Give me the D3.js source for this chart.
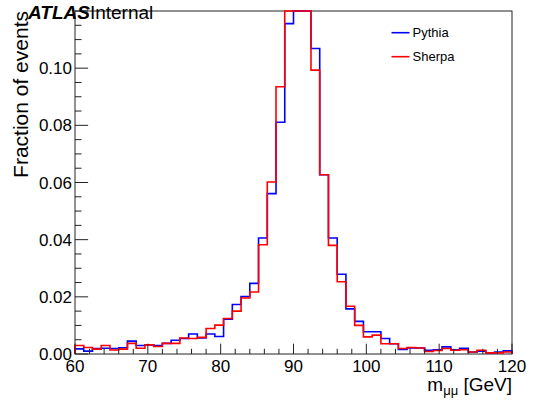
<!DOCTYPE html>
<html>
<head>
<meta charset="utf-8">
<script src="https://d3js.org/d3.v7.min.js"></script>
<style>
  html, body { margin: 0; padding: 0; background: #fff; }
  svg { display: block; font-family: "Liberation Sans", Arial, Helvetica, sans-serif; }
</style>
</head>
<body>
<svg id="chart" width="537" height="400"></svg>
<script>
// ---- data (bin width 1.2 GeV, 60..120 GeV, 50 bins) ----
const binEdgesStart = 60;
const binWidth = 1.2;
const pythia = [
  0.0018, 0.0010, 0.0019, 0.0020, 0.0019, 0.0022, 0.0045, 0.0030, 0.0032, 0.0030,
  0.0037, 0.0048, 0.0054, 0.0070, 0.0056, 0.0070, 0.0061, 0.0122, 0.0173, 0.0201,
  0.0247, 0.0406, 0.0561, 0.0811, 0.1156, 0.1370, 0.1320, 0.1069, 0.0627, 0.0406,
  0.0279, 0.0158, 0.0114, 0.0078, 0.0078, 0.0054, 0.0036, 0.0016, 0.0021, 0.0021,
  0.0013, 0.0015, 0.0025, 0.0015, 0.0020, 0.0007, 0.0010, 0.0004, 0.0007, 0.0011
];
const sherpa = [
  0.0030, 0.0023, 0.0017, 0.0030, 0.0014, 0.0017, 0.0037, 0.0020, 0.0032, 0.0026,
  0.0037, 0.0037, 0.0056, 0.0054, 0.0058, 0.0089, 0.0101, 0.0124, 0.0150, 0.0196,
  0.0217, 0.0382, 0.0602, 0.0935, 0.1250, 0.1380, 0.1300, 0.0993, 0.0627, 0.0380,
  0.0253, 0.0167, 0.0100, 0.0060, 0.0066, 0.0036, 0.0036, 0.0019, 0.0023, 0.0021,
  0.0009, 0.0012, 0.0019, 0.0013, 0.0015, 0.0007, 0.0013, 0.0004, 0.0004, 0.0007
];
const seriesNames = ["Pythia", "Sherpa"];
const seriesColors = ["#0000ff", "#ff0000"];
const xTicks = [60, 70, 80, 90, 100, 110, 120];
const yTicks = [0.00, 0.02, 0.04, 0.06, 0.08, 0.10];
const xDomain = [60, 120];
const yDomain = [0, 0.12];

// ---- layout ----
const L = 75, R = 512, T = 11, B = 354;
const svg = d3.select("#chart");

const x = d3.scaleLinear().domain(xDomain).range([L, R]);
const y = d3.scaleLinear().domain(yDomain).range([B, T]).clamp(true);

// histogram outlines
function histPoints(vals) {
  const pts = [[binEdgesStart, 0]];
  vals.forEach((v, i) => pts.push([binEdgesStart + i * binWidth, v]));
  pts.push([binEdgesStart + vals.length * binWidth, vals[vals.length - 1]]);
  pts.push([binEdgesStart + vals.length * binWidth, 0]);
  return pts;
}
const line = d3.line()
  .x(d => x(d[0]))
  .y(d => y(d[1]))
  .curve(d3.curveStepAfter);

// frame
svg.append("rect")
  .attr("x", L).attr("y", T)
  .attr("width", R - L).attr("height", B - T)
  .attr("fill", "none").attr("stroke", "#222").attr("stroke-width", 1);

[pythia, sherpa].forEach((vals, i) => {
  svg.append("path")
    .attr("d", line(histPoints(vals)))
    .attr("fill", "none")
    .attr("stroke", seriesColors[i])
    .attr("stroke-width", 1.6);
});

// x axis ticks (inward)
const xMinor = d3.range(60, 120.001, 2);
svg.append("g").selectAll("line").data(xMinor).join("line")
  .attr("x1", d => x(d)).attr("x2", d => x(d))
  .attr("y1", B).attr("y2", d => xTicks.includes(d) ? B - 10.3 : B - 5.2)
  .attr("stroke", "#222").attr("stroke-width", 1);
svg.append("g").selectAll("text").data(xTicks).join("text")
  .attr("x", d => x(d)).attr("y", 372)
  .attr("text-anchor", "middle")
  .attr("font-size", 17)
  .text(d => d);

// y axis ticks (inward)
const yMinor = d3.range(0, 0.1201, 0.005);
svg.append("g").selectAll("line").data(yMinor).join("line")
  .attr("y1", d => y(d)).attr("y2", d => y(d))
  .attr("x1", L).attr("x2", (d, i) => i % 4 === 0 ? L + 13.1 : L + 6.5)
  .attr("stroke", "#222").attr("stroke-width", 1);
svg.append("g").selectAll("text").data(yTicks).join("text")
  .attr("x", 72).attr("y", d => y(d) + 6)
  .attr("text-anchor", "end")
  .attr("font-size", 17)
  .text(d => d.toFixed(2));

// axis titles
svg.append("text")
  .attr("transform", "translate(27.5," + T + ") rotate(-90)")
  .attr("text-anchor", "end")
  .attr("font-size", 21)
  .text("Fraction of events");

const xt = svg.append("text")
  .attr("x", R).attr("y", 391)
  .attr("text-anchor", "end")
  .attr("font-size", 19);
xt.append("tspan").text("m");
xt.append("tspan").attr("font-size", 13).attr("dy", 4).text("μμ");
xt.append("tspan").attr("dy", -4).text(" [GeV]");

// ATLAS label
const at = svg.append("text").attr("x", 28).attr("y", 19).attr("font-size", 19);
at.append("tspan").attr("font-weight", "bold").attr("font-style", "italic").text("ATLAS");
at.append("tspan").text("Internal");

// legend
const leg = svg.append("g");
seriesNames.forEach((name, i) => {
  const ly = 32.7 + i * 24;
  leg.append("line")
    .attr("x1", 391.5).attr("x2", 409.5)
    .attr("y1", ly).attr("y2", ly)
    .attr("stroke", seriesColors[i]).attr("stroke-width", 1.6);
  leg.append("text")
    .attr("x", 412.5).attr("y", ly + 4.5)
    .attr("font-size", 13)
    .text(name);
});
</script>
</body>
</html>
